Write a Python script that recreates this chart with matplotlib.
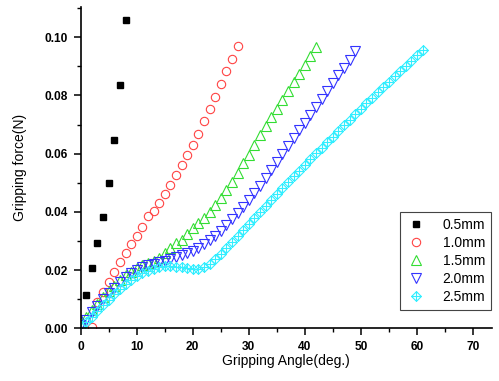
import matplotlib
matplotlib.use('Agg')
import matplotlib.pyplot as plt
from matplotlib.path import Path
from matplotlib.ticker import MultipleLocator

plt.rcParams['font.family'] = ['Liberation Sans', 'DejaVu Sans']

# data
x_05 = [1, 2, 3, 4, 5, 6, 7, 8]
y_05 = [0.0114, 0.0207, 0.0292, 0.0382, 0.0498, 0.0646, 0.0835, 0.106]

x_10 = list(range(2, 29))
y_10 = [0.0005, 0.0092, 0.0124, 0.016, 0.0195, 0.0227, 0.0258, 0.029, 0.0317,
        0.0347, 0.0385, 0.0404, 0.0432, 0.046, 0.0494, 0.0528, 0.056, 0.0595,
        0.063, 0.0668, 0.0711, 0.0753, 0.0796, 0.084, 0.0884, 0.0927, 0.0971]

x_15 = list(range(0, 43))
y_15 = [0.002, 0.004, 0.0062, 0.0085, 0.0107, 0.0127, 0.0147, 0.0165, 0.0182,
        0.0195, 0.0207, 0.0217, 0.0225, 0.0232, 0.0242, 0.0258, 0.0277, 0.0292,
        0.0305, 0.0325, 0.0345, 0.0362, 0.0378, 0.0398, 0.0422, 0.0447, 0.0475,
        0.0503, 0.0535, 0.0567, 0.0597, 0.063, 0.0665, 0.0695, 0.0725, 0.0755,
        0.0785, 0.0815, 0.0845, 0.0875, 0.0905, 0.0937, 0.0968]

x_20 = list(range(0, 50))
y_20 = [0.001, 0.003, 0.0055, 0.0078, 0.010, 0.012, 0.014, 0.0158, 0.0175,
        0.019, 0.0202, 0.021, 0.0217, 0.0222, 0.0227, 0.0232, 0.0238, 0.0245,
        0.0252, 0.0259, 0.0266, 0.0277, 0.029, 0.0303, 0.0318, 0.0335, 0.0355,
        0.0375, 0.0396, 0.0418, 0.044, 0.0465, 0.049, 0.0517, 0.0545, 0.0572,
        0.0599, 0.0626, 0.0653, 0.068, 0.0707, 0.0734, 0.0761, 0.0788, 0.0815,
        0.0842, 0.0869, 0.0896, 0.0923, 0.0952]

x_25 = list(range(0, 62))
y_25 = [0.0005, 0.002, 0.004, 0.006, 0.008, 0.0098, 0.0117, 0.0135, 0.0152,
        0.0167, 0.018, 0.019, 0.0198, 0.0205, 0.021, 0.0213, 0.0214, 0.0212,
        0.0209, 0.0206, 0.0204, 0.0205, 0.021, 0.0222, 0.0238, 0.0256, 0.0276,
        0.0297, 0.0318, 0.0338, 0.0358, 0.0379, 0.0399, 0.042, 0.0441, 0.0461,
        0.0482, 0.0502, 0.0522, 0.0542, 0.0562, 0.0582, 0.0602, 0.0621, 0.064,
        0.0659, 0.0678, 0.0697, 0.0716, 0.0735, 0.0754, 0.0773, 0.0792, 0.0811,
        0.083, 0.0848, 0.0866, 0.0884, 0.0902, 0.092, 0.0938, 0.0955]

# diamond with a cross inside
cross_diamond = Path(
    [(0, 1), (1, 0), (0, -1), (-1, 0), (0, 1), (0, 1), (0, -1), (-1, 0), (1, 0)],
    [Path.MOVETO, Path.LINETO, Path.LINETO, Path.LINETO, Path.CLOSEPOLY,
     Path.MOVETO, Path.LINETO, Path.MOVETO, Path.LINETO])

fig = plt.figure(figsize=(4.99, 3.81), dpi=100)
ax = fig.add_axes([0.1617, 0.1383, 0.8243, 0.8433])

ax.plot(x_05, y_05, 's', color='black', ms=5, label='0.5mm')
ax.plot(x_10, y_10, 'o', mfc='none', mec='#ff4444', mew=0.8, ms=6, label='1.0mm')
ax.plot(x_15, y_15, '^', mfc='none', mec='#33dd33', mew=0.8, ms=7, label='1.5mm')
ax.plot(x_20, y_20, 'v', mfc='none', mec='#3333ff', mew=0.8, ms=7, label='2.0mm')
ax.plot(x_25, y_25, ls='none', marker=cross_diamond, mfc='none', mec='#33eeff',
        mew=0.8, ms=7, label='2.5mm')

ax.set_xlim(0, 73.4)
ax.set_ylim(0, 0.1104)
ax.xaxis.set_major_locator(MultipleLocator(10))
ax.xaxis.set_minor_locator(MultipleLocator(5))
ax.yaxis.set_major_locator(MultipleLocator(0.02))
ax.yaxis.set_minor_locator(MultipleLocator(0.01))
ax.yaxis.set_major_formatter(matplotlib.ticker.FormatStrFormatter('%.2f'))

for side in ['top', 'right']:
    ax.spines[side].set_visible(False)
for side in ['left', 'bottom']:
    ax.spines[side].set_linewidth(1.2)
ax.tick_params(which='major', direction='out', length=5, width=1.1,
               labelsize=8.6, pad=4)
ax.tick_params(which='minor', direction='out', length=3, width=1.0)
for lab in ax.get_xticklabels() + ax.get_yticklabels():
    lab.set_fontweight('bold')

ax.set_xlabel('Gripping Angle(deg.)', fontsize=10, labelpad=1)
ax.set_ylabel('Gripping force(N)', fontsize=10, labelpad=13)

leg = ax.legend(loc='upper right', bbox_to_anchor=(0.997, 0.362),
                borderaxespad=0, fontsize=10, fancybox=False, framealpha=1,
                edgecolor='#444444', handletextpad=1.2, labelspacing=0.3,
                handlelength=1.5)
leg.get_frame().set_linewidth(0.8)

fig.savefig('out.png', dpi=100)
